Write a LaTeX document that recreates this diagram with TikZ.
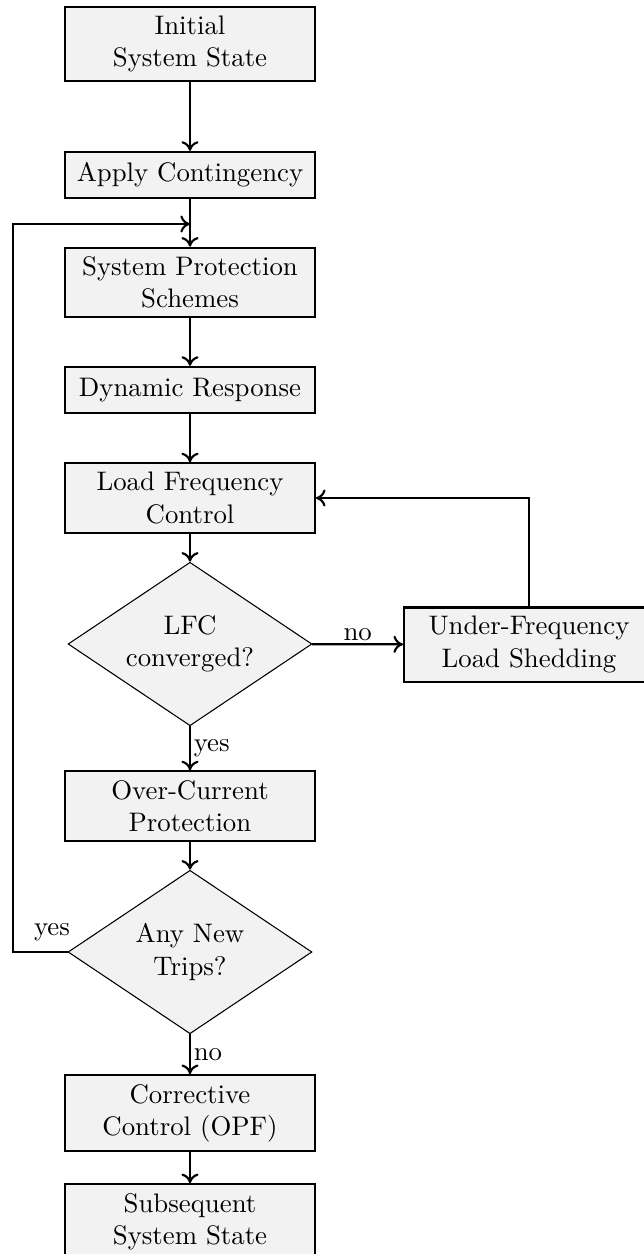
\documentclass[tikz,border=0pt]{standalone}
\usetikzlibrary{shapes.geometric, arrows.meta}
\begin{document}
\begin{tikzpicture}[
  x=0.3731pt, y=-0.3731pt,
  box/.style={rectangle, draw, thick, fill=black!5, align=center,
    text width=86.5pt, inner sep=3.33pt, minimum height=17.2pt},
  decision/.style={diamond, draw, fill=black!5, align=center,
    aspect=1.5, inner sep=1pt, minimum width=91pt, minimum height=61pt},
  flow/.style={-{Computer Modern Rightarrow[length=3.6pt, width=6.4pt]}, thick},
  lbl/.style={inner sep=1pt}
]
\useasboundingbox (0,0) rectangle (644,1254);

% main column
\node[box] (init) at (190,44)    {Initial\\System State};
\node[box] (apply) at (190,175)  {Apply Contingency};
\node[box] (sps) at (190,282.5)  {System Protection\\Schemes};
\node[box] (dyn) at (190,390)    {Dynamic Response};
\node[box] (lfc) at (190,498)    {Load Frequency\\Control};
\node[decision] (conv) at (190,644) {LFC\\converged?};
\node[box] (ufls) at (529,644.5) {Under-Frequency\\Load Shedding};
\node[box] (oc) at (190,806)     {Over-Current\\Protection};
\node[decision] (trips) at (190,952) {Any New\\Trips?};
\node[box] (opf) at (190,1113)   {Corrective\\Control (OPF)};
\node[box] (next) at (190,1221.5) {Subsequent\\System State};

% junction points of the outer loop
\coordinate (merge) at (190,224);
\coordinate (rail) at (13,0);

% connectors
\draw[flow] (init) -- (apply);
\draw[flow] (apply) -- (sps);
\draw[flow] (sps) -- (dyn);
\draw[flow] (dyn) -- (lfc);
\draw[flow] (lfc) -- (conv);
\draw[flow] (conv) -- node[lbl, above] {no} (ufls);
\draw[flow] (ufls.north) |- (lfc.east);
\draw[flow] (conv) -- node[lbl, right] {yes} (oc);
\draw[flow] (oc) -- (trips);
\draw[flow] (trips) -- node[lbl, right] {no} (opf);
\draw[flow] (opf) -- (next);
\draw[flow] (trips.west) -- (trips.west -| rail) |- (merge);
\node[lbl] (yeslbl) at (52,932) {yes};
\end{tikzpicture}
\end{document}
